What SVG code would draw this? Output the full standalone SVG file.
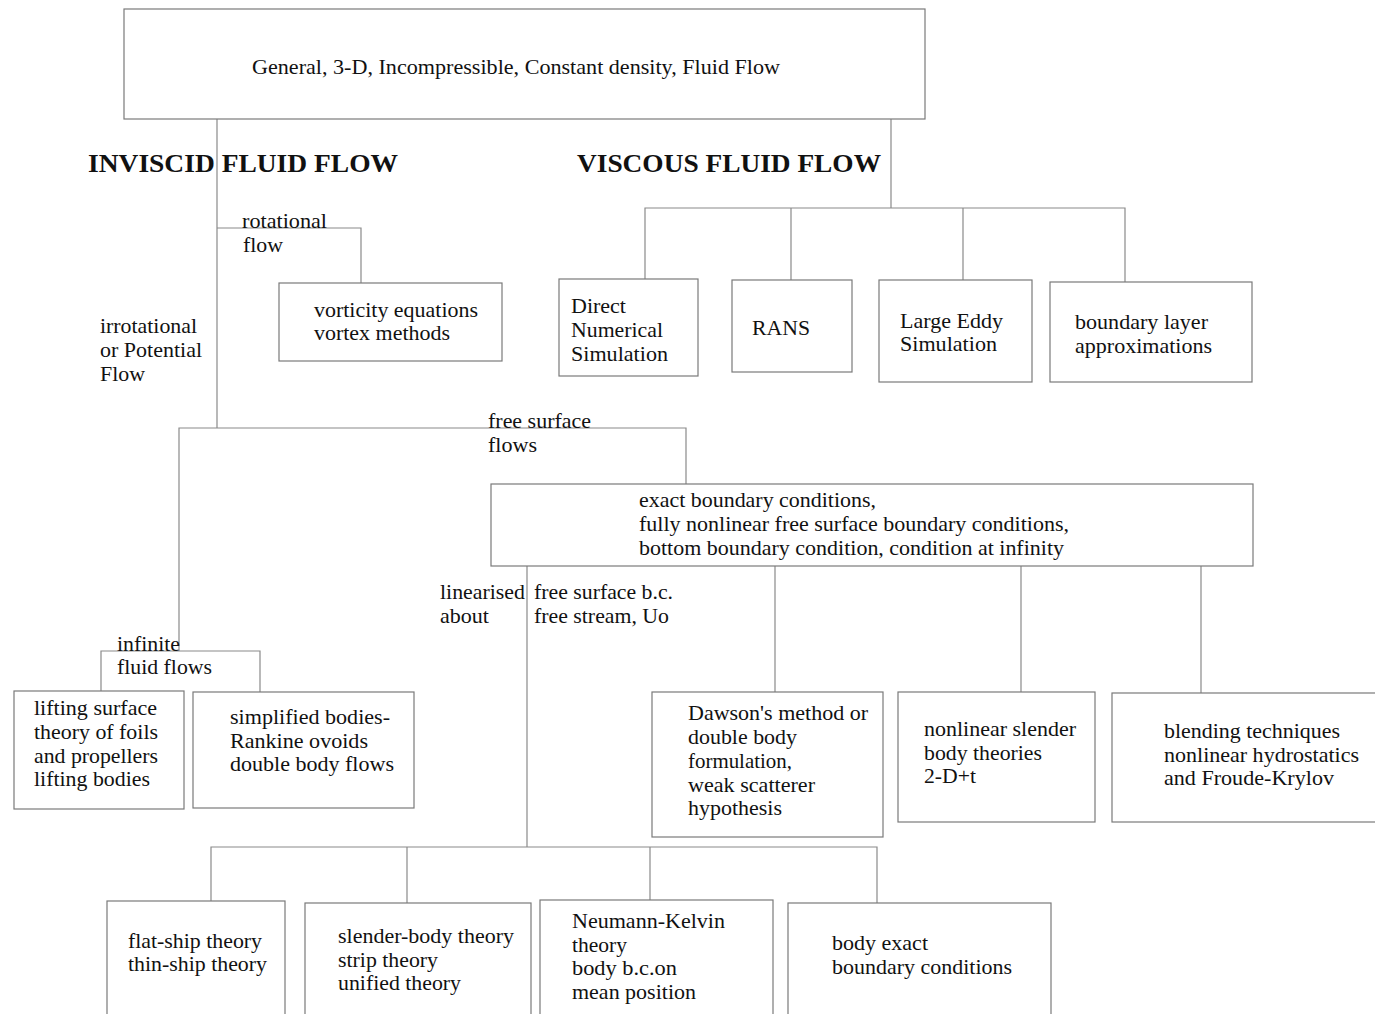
<svg xmlns="http://www.w3.org/2000/svg" width="1375" height="1014" viewBox="0 0 1375 1014">
<style>
.b{fill:#fff;stroke:#7a7a7a;stroke-width:1.2}
.c{fill:none;stroke:#8a8a8a;stroke-width:1.2}
text{font-family:"Liberation Serif","Times New Roman",serif;font-size:21px;fill:#111}
.h{font-weight:bold;font-size:26px}
</style>
<rect width="1375" height="1014" fill="#fff"/>
<g id="connectors">
<path class="c" d="M217 119V428M891 119V208M217 228H361V283"/>
<path class="c" d="M645 280V208H1125V282M791 208V280M963 208V280"/>
<path class="c" d="M179 651V428H686V484"/>
<path class="c" d="M101 691V651H260V692"/>
<path class="c" d="M527 566V847M775 566V692M1021 566V692M1201 566V693"/>
<path class="c" d="M211 901V847H877V903M407 847V903M650 847V900"/>
</g>
<g id="root"><rect class="b" x="124" y="9" width="801" height="110"/>
<text x="252" y="74" textLength="528" lengthAdjust="spacingAndGlyphs">General, 3-D, Incompressible, Constant density, Fluid Flow</text></g>
<g id="inviscid"><text class="h" x="88" y="172" textLength="310" lengthAdjust="spacingAndGlyphs">INVISCID FLUID FLOW</text></g>
<g id="viscous"><text class="h" x="577" y="172" textLength="304" lengthAdjust="spacingAndGlyphs">VISCOUS FLUID FLOW</text></g>
<g id="lbl-rot"><text x="242" y="228" textLength="85" lengthAdjust="spacingAndGlyphs">rotational</text><text x="243" y="252" textLength="40" lengthAdjust="spacingAndGlyphs">flow</text></g>
<g id="vorticity"><rect class="b" x="279" y="283" width="223" height="78"/>
<text x="314" y="317" textLength="164" lengthAdjust="spacingAndGlyphs">vorticity equations</text><text x="314" y="340" textLength="136" lengthAdjust="spacingAndGlyphs">vortex methods</text></g>
<g id="lbl-irrot"><text x="100" y="333" textLength="97" lengthAdjust="spacingAndGlyphs">irrotational</text><text x="100" y="357" textLength="102" lengthAdjust="spacingAndGlyphs">or Potential</text><text x="100" y="381" textLength="45" lengthAdjust="spacingAndGlyphs">Flow</text></g>
<g id="dns"><rect class="b" x="559" y="279" width="139" height="97"/>
<text x="571" y="313" textLength="55" lengthAdjust="spacingAndGlyphs">Direct</text><text x="571" y="337" textLength="92" lengthAdjust="spacingAndGlyphs">Numerical</text><text x="571" y="361" textLength="97" lengthAdjust="spacingAndGlyphs">Simulation</text></g>
<g id="rans"><rect class="b" x="732" y="280" width="120" height="92"/>
<text x="752" y="335" textLength="58" lengthAdjust="spacingAndGlyphs">RANS</text></g>
<g id="les"><rect class="b" x="879" y="280" width="153" height="102"/>
<text x="900" y="328" textLength="103" lengthAdjust="spacingAndGlyphs">Large Eddy</text><text x="900" y="351" textLength="97" lengthAdjust="spacingAndGlyphs">Simulation</text></g>
<g id="bl"><rect class="b" x="1050" y="282" width="202" height="100"/>
<text x="1075" y="329" textLength="133" lengthAdjust="spacingAndGlyphs">boundary layer</text><text x="1075" y="353" textLength="137" lengthAdjust="spacingAndGlyphs">approximations</text></g>
<g id="lbl-fs"><text x="488" y="428" textLength="103" lengthAdjust="spacingAndGlyphs">free surface</text><text x="488" y="452" textLength="49" lengthAdjust="spacingAndGlyphs">flows</text></g>
<g id="exact"><rect class="b" x="491" y="484" width="762" height="82"/>
<text x="639" y="507" textLength="237" lengthAdjust="spacingAndGlyphs">exact boundary conditions,</text><text x="639" y="531" textLength="430" lengthAdjust="spacingAndGlyphs">fully nonlinear free surface boundary conditions,</text><text x="639" y="555" textLength="425" lengthAdjust="spacingAndGlyphs">bottom boundary condition, condition at infinity</text></g>
<g id="lbl-lin"><text x="440" y="599" textLength="85" lengthAdjust="spacingAndGlyphs">linearised</text><text x="440" y="623" textLength="49" lengthAdjust="spacingAndGlyphs">about</text><text x="534" y="599" textLength="139" lengthAdjust="spacingAndGlyphs">free surface b.c.</text><text x="534" y="623" textLength="135" lengthAdjust="spacingAndGlyphs">free stream, Uo</text></g>
<g id="lbl-inf"><text x="117" y="651" textLength="63" lengthAdjust="spacingAndGlyphs">infinite</text><text x="117" y="674" textLength="95" lengthAdjust="spacingAndGlyphs">fluid flows</text></g>
<g id="lifting"><rect class="b" x="14" y="691" width="170" height="118"/>
<text x="34" y="715" textLength="123" lengthAdjust="spacingAndGlyphs">lifting surface</text><text x="34" y="739" textLength="124" lengthAdjust="spacingAndGlyphs">theory of foils</text><text x="34" y="763" textLength="124" lengthAdjust="spacingAndGlyphs">and propellers</text><text x="34" y="786" textLength="116" lengthAdjust="spacingAndGlyphs">lifting bodies</text></g>
<g id="simplified"><rect class="b" x="193" y="692" width="221" height="116"/>
<text x="230" y="724" textLength="160" lengthAdjust="spacingAndGlyphs">simplified bodies-</text><text x="230" y="748" textLength="138" lengthAdjust="spacingAndGlyphs">Rankine ovoids</text><text x="230" y="771" textLength="164" lengthAdjust="spacingAndGlyphs">double body flows</text></g>
<g id="dawson"><rect class="b" x="652" y="692" width="231" height="145"/>
<text x="688" y="720" textLength="180" lengthAdjust="spacingAndGlyphs">Dawson's method or</text><text x="688" y="744" textLength="109" lengthAdjust="spacingAndGlyphs">double body</text><text x="688" y="768" textLength="104" lengthAdjust="spacingAndGlyphs">formulation,</text><text x="688" y="792" textLength="127" lengthAdjust="spacingAndGlyphs">weak scatterer</text><text x="688" y="815" textLength="94" lengthAdjust="spacingAndGlyphs">hypothesis</text></g>
<g id="nlslender"><rect class="b" x="898" y="692" width="197" height="130"/>
<text x="924" y="736" textLength="152" lengthAdjust="spacingAndGlyphs">nonlinear slender</text><text x="924" y="760" textLength="118" lengthAdjust="spacingAndGlyphs">body theories</text><text x="924" y="783" textLength="52" lengthAdjust="spacingAndGlyphs">2-D+t</text></g>
<g id="blending"><rect class="b" x="1112" y="693" width="270" height="129"/>
<text x="1164" y="738" textLength="176" lengthAdjust="spacingAndGlyphs">blending techniques</text><text x="1164" y="762" textLength="195" lengthAdjust="spacingAndGlyphs">nonlinear hydrostatics</text><text x="1164" y="785" textLength="170" lengthAdjust="spacingAndGlyphs">and Froude-Krylov</text></g>
<g id="flatship"><rect class="b" x="107" y="901" width="178" height="120"/>
<text x="128" y="948" textLength="134" lengthAdjust="spacingAndGlyphs">flat-ship theory</text><text x="128" y="971" textLength="139" lengthAdjust="spacingAndGlyphs">thin-ship theory</text></g>
<g id="slender"><rect class="b" x="305" y="903" width="226" height="120"/>
<text x="338" y="943" textLength="176" lengthAdjust="spacingAndGlyphs">slender-body theory</text><text x="338" y="967" textLength="100" lengthAdjust="spacingAndGlyphs">strip theory</text><text x="338" y="990" textLength="123" lengthAdjust="spacingAndGlyphs">unified theory</text></g>
<g id="neumann"><rect class="b" x="540" y="900" width="233" height="120"/>
<text x="572" y="928" textLength="153" lengthAdjust="spacingAndGlyphs">Neumann-Kelvin</text><text x="572" y="952" textLength="55" lengthAdjust="spacingAndGlyphs">theory</text><text x="572" y="975" textLength="105" lengthAdjust="spacingAndGlyphs">body b.c.on</text><text x="572" y="999" textLength="124" lengthAdjust="spacingAndGlyphs">mean position</text></g>
<g id="bodyexact"><rect class="b" x="788" y="903" width="263" height="120"/>
<text x="832" y="950" textLength="96" lengthAdjust="spacingAndGlyphs">body exact</text><text x="832" y="974" textLength="180" lengthAdjust="spacingAndGlyphs">boundary conditions</text></g>
</svg>
